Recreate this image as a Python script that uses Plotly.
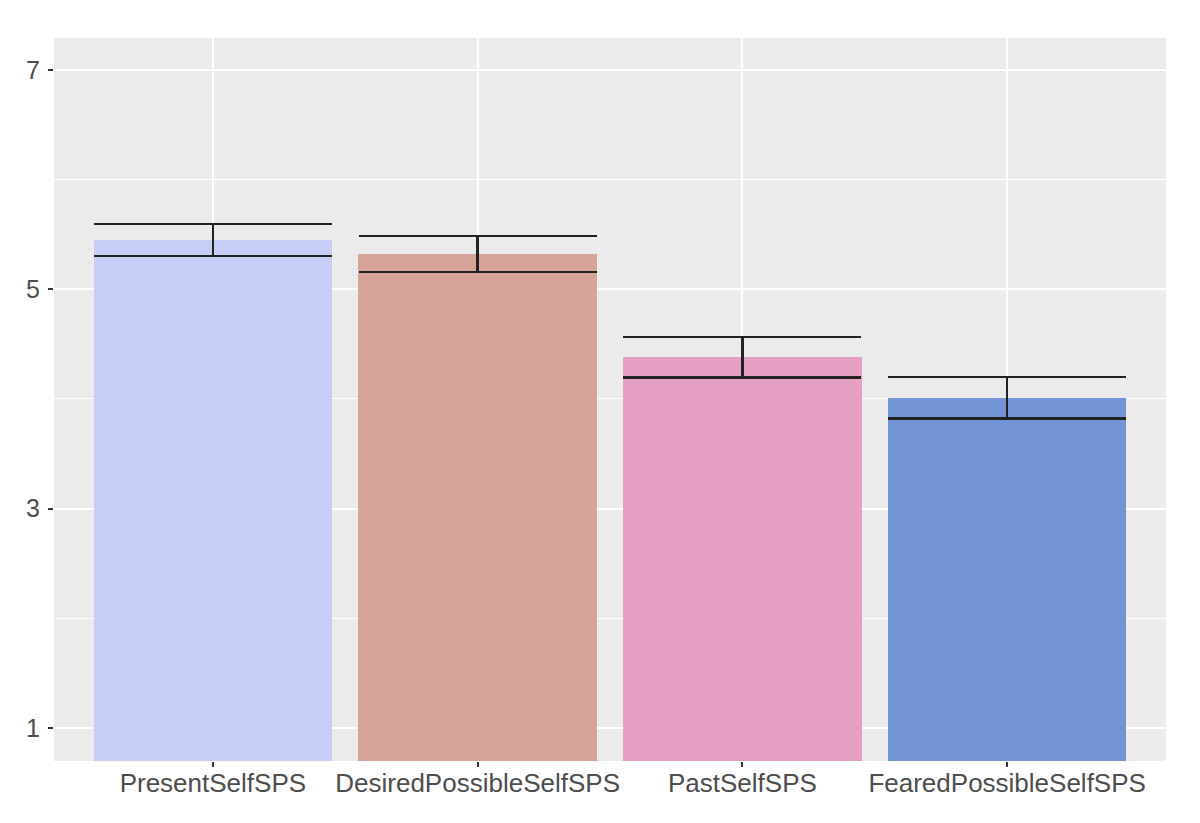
import plotly.graph_objects as go

# SPS means per self condition, with error bar half-widths
conditions = ["PresentSelfSPS", "DesiredPossibleSelfSPS", "PastSelfSPS", "FearedPossibleSelfSPS"]
means = [5.45, 5.32, 4.38, 4.01]
errors = [0.146, 0.165, 0.183, 0.19]
bar_colors = ["#C6CDF7", "#D8A499", "#E6A0C4", "#7294D4"]

y_ticks = [1, 3, 5, 7]

fig = go.Figure()

_ = fig.add_trace(
    go.Bar(
        x=conditions,
        y=means,
        width=0.9,
        marker=dict(color=bar_colors, line=dict(width=0)),
        error_y=dict(
            type="data",
            array=errors,
            visible=True,
            color="#222222",
            thickness=2.5,
            width=119,
        ),
        showlegend=False,
    )
)

# the page puts the figure 8px in from the top-left corner
fig.update_layout(
    width=1200,
    height=823,
    margin=dict(l=46, r=42, t=30, b=70),
    paper_bgcolor="white",
    plot_bgcolor="#EBEBEB",
    font=dict(family="Liberation Sans, Arial, sans-serif", size=25, color="#4D4D4D"),
    bargap=0,
)

fig.update_xaxes(
    type="category",
    range=[-0.6, 3.6],
    showgrid=True,
    gridcolor="white",
    gridwidth=2,
    ticks="outside",
    ticklen=5,
    tickwidth=1.5,
    tickcolor="#333333",
    tickfont=dict(size=26),
    ticklabelstandoff=-6,
    zeroline=False,
    showline=False,
)

fig.update_yaxes(
    range=[0.70, 7.29],
    tickvals=y_ticks,
    ticktext=[str(v) for v in y_ticks],
    showgrid=True,
    gridcolor="white",
    gridwidth=2,
    minor=dict(dtick=1, tick0=0, showgrid=True, gridcolor="white", gridwidth=1),
    ticks="outside",
    ticklen=5,
    tickwidth=1.5,
    tickcolor="#333333",
    ticklabelstandoff=3,
    zeroline=False,
    showline=False,
)

fig.write_html("out.html")
